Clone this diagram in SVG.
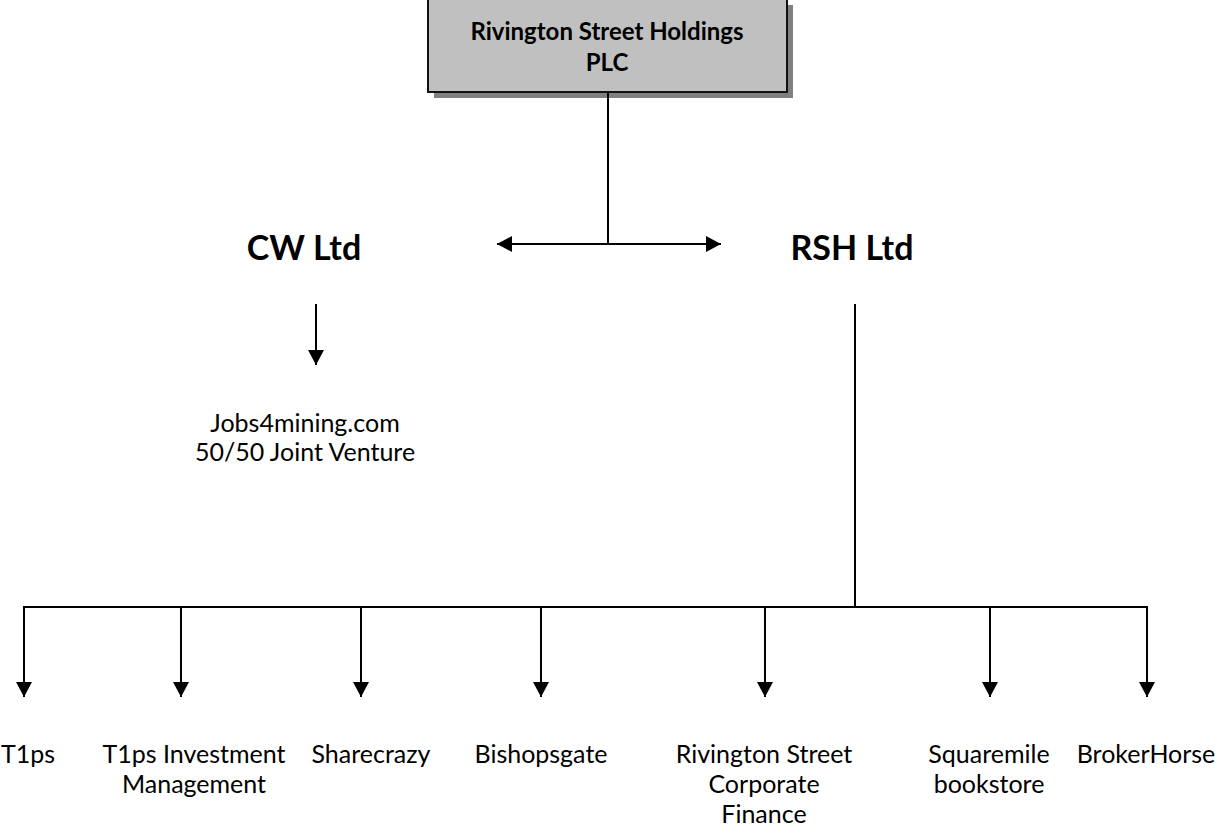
<svg xmlns="http://www.w3.org/2000/svg" width="1215" height="832" viewBox="0 0 1215 832">
<style>
.lbl{font-family:Lato,"Liberation Sans",sans-serif;font-size:25px;fill:#000;text-anchor:middle}
.big{font-family:Lato,"Liberation Sans",sans-serif;font-size:34px;font-weight:bold;fill:#000;text-anchor:middle}
.ttl{font-family:Lato,"Liberation Sans",sans-serif;font-size:24px;font-weight:bold;fill:#000;text-anchor:middle}
.ln{stroke:#000;stroke-width:2;fill:none}
</style>
<defs>
<marker id="ah" markerWidth="16" markerHeight="16" viewBox="0 0 16 16" refX="15" refY="8" orient="auto" markerUnits="userSpaceOnUse">
<path d="M0,0 L15,8 L0,16 Z" fill="#000"/>
</marker>
</defs>
<g id="top">
<rect x="434" y="5" width="359" height="93" fill="#808080"/>
<rect x="428" y="-1" width="359" height="93" fill="#c0c0c0" stroke="#111" stroke-width="2"/>
<text class="ttl" x="607" y="40">Rivington Street Holdings</text>
<text class="ttl" x="607" y="71">PLC</text>
</g>
<g id="cw"><text class="big" x="304" y="260">CW Ltd</text></g>
<g id="rsh"><text class="big" x="852" y="260">RSH Ltd</text></g>
<g id="jobs"><text class="lbl" x="305" y="432">Jobs4mining.com</text><text class="lbl" x="305" y="461">50/50 Joint Venture</text></g>
<g id="t1ps"><text class="lbl" x="1" y="763" style="text-anchor:start">T1ps</text></g>
<g id="t1psim"><text class="lbl" x="194" y="763">T1ps Investment</text><text class="lbl" x="194" y="793">Management</text></g>
<g id="sharecrazy"><text class="lbl" x="371" y="763">Sharecrazy</text></g>
<g id="bishopsgate"><text class="lbl" x="541" y="763">Bishopsgate</text></g>
<g id="rscf"><text class="lbl" x="764" y="763">Rivington Street</text><text class="lbl" x="764" y="793">Corporate</text><text class="lbl" x="764" y="823">Finance</text></g>
<g id="squaremile"><text class="lbl" x="989" y="763">Squaremile</text><text class="lbl" x="989" y="793">bookstore</text></g>
<g id="brokerhorse"><text class="lbl" x="1146" y="763">BrokerHorse</text></g>
<g id="connectors">
<line class="ln" x1="608" y1="92" x2="608" y2="244"/>
<line class="ln" x1="608" y1="244" x2="497" y2="244" marker-end="url(#ah)"/>
<line class="ln" x1="608" y1="244" x2="721" y2="244" marker-end="url(#ah)"/>
<line class="ln" x1="316" y1="304" x2="316" y2="365" marker-end="url(#ah)"/>
<line class="ln" x1="855" y1="304" x2="855" y2="607"/>
<line class="ln" x1="23" y1="607" x2="1148" y2="607"/>
<line class="ln" x1="24" y1="606" x2="24" y2="697" marker-end="url(#ah)"/>
<line class="ln" x1="181" y1="607" x2="181" y2="697" marker-end="url(#ah)"/>
<line class="ln" x1="361" y1="607" x2="361" y2="697" marker-end="url(#ah)"/>
<line class="ln" x1="541" y1="607" x2="541" y2="697" marker-end="url(#ah)"/>
<line class="ln" x1="765" y1="607" x2="765" y2="697" marker-end="url(#ah)"/>
<line class="ln" x1="990" y1="607" x2="990" y2="697" marker-end="url(#ah)"/>
<line class="ln" x1="1147" y1="606" x2="1147" y2="697" marker-end="url(#ah)"/>
</g>
</svg>
